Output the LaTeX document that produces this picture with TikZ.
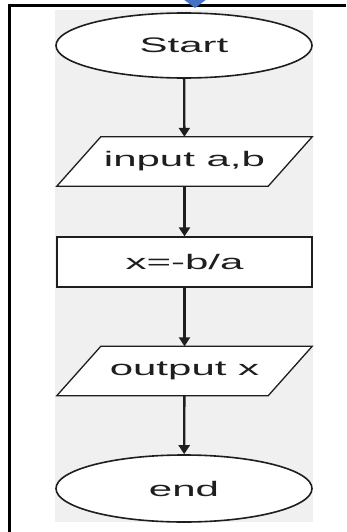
\documentclass[tikz,border=0pt]{standalone}
\usepackage{fontspec}
\usepackage{graphicx}
\setmainfont{Liberation Sans}
\usetikzlibrary{shapes.geometric,arrows.meta}
\definecolor{bgpanel}{RGB}{240,240,240}
\definecolor{inkc}{RGB}{30,30,30}
\definecolor{markblue}{RGB}{68,114,196}
\newcommand{\wtext}[1]{\scalebox{2}[1]{#1}}
\begin{document}
\begin{tikzpicture}[x=1pt,y=-1pt,
  lbl/.style={font=\fontsize{21}{25}\selectfont, text=inkc},
  termbox/.style={lbl, ellipse, draw=inkc, line width=1.6pt, fill=white, minimum width=256pt, minimum height=65pt, inner sep=0pt},
  iobox/.style={lbl, rectangle, minimum width=255pt, minimum height=49pt, inner sep=0pt},
  ioedge/.style={draw=inkc, line width=1.3pt, fill=white},
  procbox/.style={lbl, rectangle, draw=inkc, line width=1.3pt, fill=white, minimum width=255pt, minimum height=50pt, inner sep=0pt},
  flow/.style={draw=inkc, line width=2.3pt, -{Triangle[length=9pt,width=11pt]}}
]
\useasboundingbox (0,0) rectangle (346,532);
\fill[white] (0,0) rectangle (346,532);
\fill[bgpanel] (55,10) rectangle (313,522);
\draw[black, line width=2.5pt] (9.5,532) -- (9.5,5.5) -- (346,5.5);
\fill[markblue] (183,-1) -- (195,8) -- (207,-1) -- cycle;

\node[termbox] (start) at (184,45.5) {\wtext{Start}};
\node[iobox] (inp) at (184.5,161.5) {};
\draw[ioedge] (inp.south west) -- ([xshift=44pt]inp.north west) -- (inp.north east) -- ([xshift=-44pt]inp.south east) -- cycle;
\node[lbl] at (inp) {\wtext{input a,b}};
\node[procbox] (proc) at (184.5,262) {\wtext{x=-b/a}};
\node[iobox] (outp) at (184.5,371) {};
\draw[ioedge] (outp.south west) -- ([xshift=44pt]outp.north west) -- (outp.north east) -- ([xshift=-44pt]outp.south east) -- cycle;
\node[lbl] at (outp) {\wtext{output x}};
\node[termbox, minimum height=67pt] (stop) at (184,488.5) {\wtext{end}};

\draw[flow] (start) -- (inp);
\draw[flow] (inp) -- (proc);
\draw[flow] (proc) -- (outp);
\draw[flow] (outp) -- (stop);
\end{tikzpicture}
\end{document}
